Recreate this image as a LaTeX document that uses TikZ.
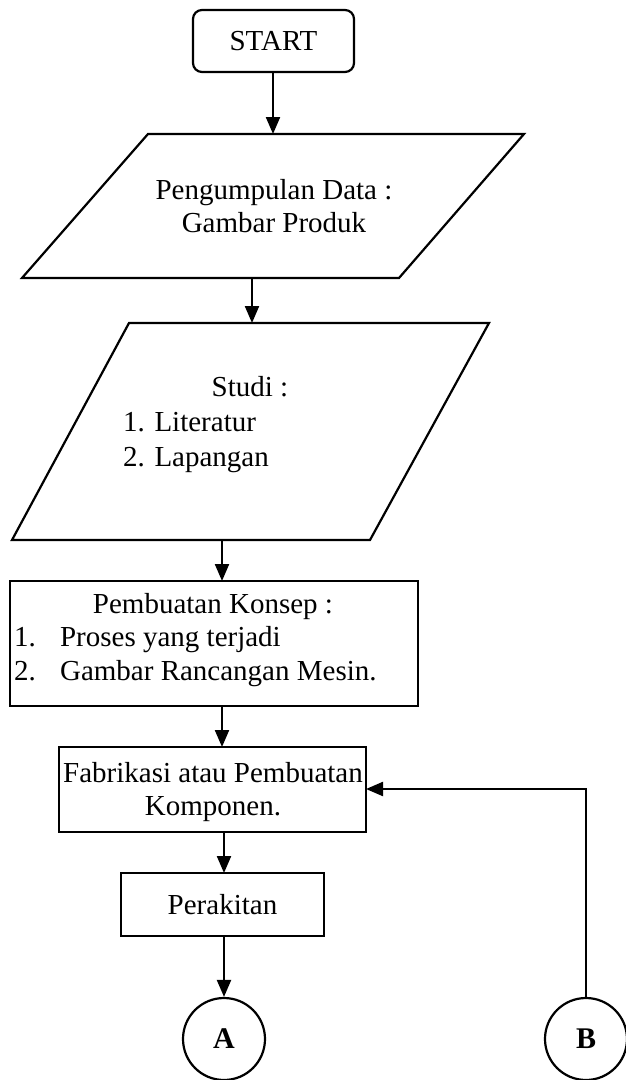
\documentclass[tikz,border=0pt]{standalone}
\usepackage{fontspec}
\setmainfont{Liberation Serif}
\usetikzlibrary{arrows.meta}
\begin{document}
\begin{tikzpicture}[x=1pt,y=-1pt, line width=2.2pt,
  arr/.style={-{Triangle[length=17pt,width=14pt]}},
  txt/.style={font=\fontsize{29}{33}\selectfont, inner sep=0pt},
  boxed/.style={draw, rectangle, inner sep=0pt},
  conn/.style={draw, circle, inner sep=0pt, minimum size=82pt, font=\fontsize{30}{30}\selectfont\bfseries}]
\useasboundingbox (0,0) rectangle (626,1080);
% START
\node[boxed, rounded corners=9pt, minimum width=161pt, minimum height=62pt, txt] (start) at (273.5,41) {START};
% Parallelogram 1
\coordinate (p1tl) at (148,134); \coordinate (p1tr) at (524,134);
\coordinate (p1br) at (399,278); \coordinate (p1bl) at (22,278);
\draw (p1tl) -- (p1tr) -- (p1br) -- (p1bl) -- cycle;
\node[txt, align=center] (p1) at (274,206) {Pengumpulan Data :\\Gambar Produk};
\coordinate (p1in) at (273,134);
\coordinate (p1out) at (252,278);
% Parallelogram 2
\coordinate (p2tl) at (129,323); \coordinate (p2tr) at (489,323);
\coordinate (p2br) at (370,540); \coordinate (p2bl) at (12,540);
\draw (p2tl) -- (p2tr) -- (p2br) -- (p2bl) -- cycle;
\node[txt, anchor=base] (studi) at (250,396) {Studi :};
\node[txt, anchor=base west] (lit) at (122,431) {1. Literatur};
\node[txt, anchor=base west] (lap) at (122,466) {2. Lapangan};
\coordinate (p2in) at (252,323);
\coordinate (p2out) at (222,540);
% Konsep
\node[boxed, minimum width=408pt, minimum height=125pt] (konsep) at (214,643.5) {};
\node[txt, anchor=base] (k0) at (213,613) {Pembuatan Konsep :};
\node[txt, anchor=base west] (k1n) at (13,646) {1.};
\node[txt, anchor=base west] (k1) at (59,646) {Proses yang terjadi};
\node[txt, anchor=base west] (k2n) at (13,680) {2.};
\node[txt, anchor=base west] (k2) at (59,680) {Gambar Rancangan Mesin.};
\coordinate (kin) at (222,581);
\coordinate (kout) at (222,706);
% Fabrikasi
\node[boxed, minimum width=307pt, minimum height=85pt] (fab) at (212.5,789.5) {};
\node[txt, align=center] (fabt) at (213,792) {Fabrikasi atau Pembuatan\\Komponen.};
\coordinate (fin) at (222,747);
\coordinate (fout) at (224,832);
\coordinate (fright) at (366,789);
% Perakitan
\node[boxed, minimum width=203pt, minimum height=63pt, txt] (rakit) at (222.5,904.5) {Perakitan};
\coordinate (rin) at (224,873);
\coordinate (rout) at (224,936);
% Connectors
\node[conn] (A) at (224,1039) {A};
\node[conn] (B) at (586,1039) {B};
\coordinate (bturn) at (B.north |- fright);
% Arrows
\draw[arr] (start.south -| p1in) -- (p1in);
\draw[arr] (p1out) -- (p2in);
\draw[arr] (p2out) -- (kin);
\draw[arr] (kout) -- (fin);
\draw[arr] (fout) -- (rin);
\draw[arr] (rout) -- (A.north);
\draw[arr] (B.north) -- (bturn) -- (fright);
\end{tikzpicture}
\end{document}
